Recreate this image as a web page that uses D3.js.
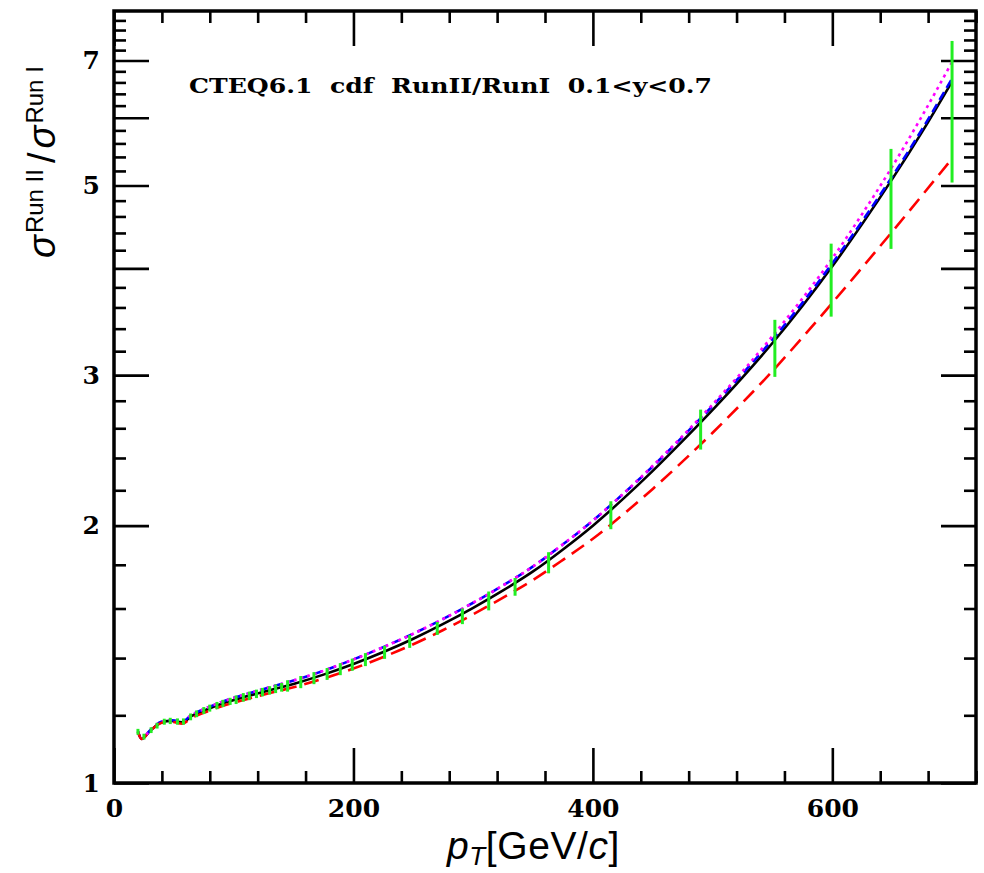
<!DOCTYPE html>
<html>
<head>
<meta charset="utf-8">
<script src="https://cdn.jsdelivr.net/npm/d3@7"></script>
<style>
  body { margin: 0; background: #fff; }
  svg { display: block; }
</style>
</head>
<body>
<div id="chart"></div>
<script>
// pT grid for the theory curves (GeV/c)
var ptGrid = [20, 23, 30, 40, 48, 57, 65, 75, 90, 110, 130, 150, 175, 200, 225, 250, 275, 300,
  325, 350, 375, 400, 425, 450, 475, 500, 525, 550, 575, 600, 625, 650, 675, 700];

// ratio RunII/RunI for each set
var centralSet = [1.148, 1.126, 1.150, 1.178, 1.182, 1.178, 1.198, 1.215, 1.238, 1.262, 1.284, 1.306,
  1.339, 1.378, 1.423, 1.475, 1.535, 1.603, 1.680, 1.768, 1.876, 2.000, 2.148, 2.318, 2.513, 2.732,
  2.982, 3.271, 3.614, 4.022, 4.509, 5.086, 5.777, 6.615];
var blueSet = [1.149, 1.127, 1.152, 1.180, 1.184, 1.181, 1.202, 1.220, 1.244, 1.270, 1.294, 1.318,
  1.353, 1.395, 1.442, 1.495, 1.556, 1.625, 1.703, 1.792, 1.902, 2.027, 2.177, 2.346, 2.542, 2.762,
  3.012, 3.302, 3.645, 4.055, 4.543, 5.121, 5.819, 6.669];
var magentaSet = [1.149, 1.127, 1.152, 1.180, 1.184, 1.181, 1.202, 1.220, 1.244, 1.270, 1.294, 1.318,
  1.353, 1.395, 1.442, 1.495, 1.556, 1.625, 1.703, 1.792, 1.902, 2.027, 2.177, 2.350, 2.547, 2.773,
  3.031, 3.333, 3.688, 4.110, 4.632, 5.260, 6.032, 6.972];
var redSet = [1.148, 1.126, 1.150, 1.176, 1.179, 1.173, 1.192, 1.208, 1.230, 1.252, 1.274, 1.294,
  1.325, 1.361, 1.404, 1.453, 1.510, 1.575, 1.648, 1.728, 1.824, 1.931, 2.060, 2.208, 2.378, 2.569,
  2.786, 3.033, 3.320, 3.645, 4.010, 4.415, 4.869, 5.376];

// uncertainty bars
var barPt = [20, 25, 31, 36, 42, 47, 53, 58, 64, 69, 75, 80, 86, 91, 97, 102, 108, 113, 119, 124,
  130, 135, 140, 145, 156, 167, 178, 189, 199, 210, 226, 247, 270, 291, 313, 335, 363, 415, 490,
  552, 599, 649, 700];
var barLow = [1.139, 1.124, 1.144, 1.158, 1.170, 1.172, 1.170, 1.170, 1.184, 1.194, 1.204, 1.212,
  1.220, 1.227, 1.234, 1.237, 1.245, 1.250, 1.257, 1.263, 1.269, 1.274, 1.279, 1.279, 1.291, 1.305,
  1.320, 1.337, 1.353, 1.370, 1.397, 1.439, 1.490, 1.534, 1.592, 1.656, 1.759, 1.981, 2.455, 2.986,
  3.512, 4.215, 5.040];
var barHigh = [1.157, 1.142, 1.162, 1.176, 1.189, 1.192, 1.190, 1.190, 1.206, 1.216, 1.227, 1.235,
  1.244, 1.251, 1.258, 1.266, 1.274, 1.279, 1.286, 1.292, 1.298, 1.304, 1.309, 1.319, 1.334, 1.348,
  1.363, 1.381, 1.398, 1.419, 1.447, 1.490, 1.543, 1.600, 1.675, 1.737, 1.862, 2.136, 2.734, 3.482,
  4.275, 5.518, 7.380];

var xMajor = [0, 200, 400, 600];
var yMajor = [1, 2, 3, 4, 5, 6, 7];
var yLabeled = [1, 2, 3, 5, 7];

var svgWidth = 984;
var svgHeight = 873;

var margin = {
  top: 11,
  right: 8,
  bottom: 90,
  left: 114
};

var width = svgWidth - margin.left - margin.right;
var height = svgHeight - margin.top - margin.bottom;

var svg = d3.select("#chart")
  .append("svg")
  .attr("width", svgWidth)
  .attr("height", svgHeight);

var chart = svg.append("g")
  .attr("transform", `translate(${margin.left}, ${margin.top})`);

var xScale = d3.scaleLinear()
  .domain([0, 720])
  .range([0, width]);

var yScale = d3.scaleLog()
  .domain([1, 8])
  .range([height, 0]);

var xMinor = d3.range(0, 721, 40).filter(d => xMajor.indexOf(d) < 0);
var yMinor = d3.range(5, 41).map(d => d / 5).filter(d => Math.abs(d - Math.round(d)) > 1e-6);

var labelFont = "'DejaVu Serif', serif";

function styleAxis(g) {
  g.select(".domain").remove();
  g.selectAll(".tick line").attr("stroke", "#000").attr("stroke-width", 2.6);
  g.selectAll(".tick text")
    .attr("font-family", labelFont)
    .attr("font-weight", "bold")
    .attr("font-size", 25)
    .attr("fill", "#000");
}

// bottom axis
chart.append("g")
  .attr("transform", `translate(0, ${height})`)
  .call(d3.axisBottom(xScale).tickValues(xMinor).tickSize(-12).tickFormat(""))
  .call(styleAxis);
chart.append("g")
  .attr("transform", `translate(0, ${height})`)
  .call(d3.axisBottom(xScale).tickValues(xMajor).tickSize(-35).tickPadding(16).tickFormat(d3.format("d")))
  .call(styleAxis);

// top axis
chart.append("g")
  .call(d3.axisTop(xScale).tickValues(xMinor).tickSize(-12).tickFormat(""))
  .call(styleAxis);
chart.append("g")
  .call(d3.axisTop(xScale).tickValues(xMajor).tickSize(-35).tickFormat(""))
  .call(styleAxis);

// left axis
chart.append("g")
  .call(d3.axisLeft(yScale).tickValues(yMinor).tickSize(-12).tickFormat(""))
  .call(styleAxis);
chart.append("g")
  .call(d3.axisLeft(yScale).tickValues(yMajor).tickSize(-35).tickPadding(14)
    .tickFormat(d => yLabeled.indexOf(d) >= 0 ? d : ""))
  .call(styleAxis);

// right axis
chart.append("g")
  .attr("transform", `translate(${width}, 0)`)
  .call(d3.axisRight(yScale).tickValues(yMinor).tickSize(-12).tickFormat(""))
  .call(styleAxis);
chart.append("g")
  .attr("transform", `translate(${width}, 0)`)
  .call(d3.axisRight(yScale).tickValues(yMajor).tickSize(-35).tickFormat(""))
  .call(styleAxis);

// frame
chart.append("rect")
  .attr("width", width)
  .attr("height", height)
  .attr("fill", "none")
  .attr("stroke", "#000")
  .attr("stroke-width", 3.5);

// curves
var line = d3.line()
  .x((d, i) => xScale(ptGrid[i]))
  .y(d => yScale(d))
  .curve(d3.curveMonotoneX);

var curves = [
  { values: centralSet, color: "#000", dash: null },
  { values: blueSet, color: "#0000ff", dash: "9,5" },
  { values: magentaSet, color: "#ff00ff", dash: "3,4" },
  { values: redSet, color: "#ff0000", dash: "15,8" }
];

curves.forEach(function(c) {
  chart.append("path")
    .datum(c.values)
    .attr("d", line)
    .attr("fill", "none")
    .attr("stroke", c.color)
    .attr("stroke-width", 2.6)
    .attr("stroke-dasharray", c.dash);
});

// error bars
chart.selectAll(".bar")
  .data(barPt)
  .enter()
  .append("line")
  .attr("class", "bar")
  .attr("x1", d => xScale(d))
  .attr("x2", d => xScale(d))
  .attr("y1", (d, i) => yScale(barLow[i]))
  .attr("y2", (d, i) => yScale(barHigh[i]))
  .attr("stroke", "#22ee22")
  .attr("stroke-width", 3);

// label inside the frame
svg.append("text")
  .attr("x", 189)
  .attr("y", 93)
  .attr("font-family", labelFont)
  .attr("font-weight", "bold")
  .attr("font-size", 21)
  .attr("textLength", 523)
  .attr("lengthAdjust", "spacingAndGlyphs")
  .style("white-space", "pre")
  .text("CTEQ6.1  cdf  RunII/RunI  0.1<y<0.7");

// x axis title
var xt = svg.append("text")
  .attr("x", 447)
  .attr("y", 859)
  .attr("font-family", "'Liberation Sans', Arial, sans-serif")
  .attr("font-size", 39)
  .attr("letter-spacing", 0.6);
xt.append("tspan").attr("font-style", "italic").text("p");
xt.append("tspan").attr("font-style", "italic").attr("font-size", 26).attr("dy", 6).text("T");
xt.append("tspan").attr("dy", -6).text("[GeV/");
xt.append("tspan").attr("font-style", "italic").text("c");
xt.append("tspan").text("]");

// y axis title
var yt = svg.append("text")
  .attr("transform", "translate(55, 258) rotate(-90)")
  .attr("font-family", "'Liberation Sans', Arial, sans-serif")
  .attr("font-size", 38);
yt.append("tspan").attr("font-style", "italic").text("σ");
yt.append("tspan").attr("font-size", 24).attr("dy", -12).attr("dx", 2).text("Run II");
yt.append("tspan").attr("dy", 12).attr("dx", 6).text("/");
yt.append("tspan").attr("font-style", "italic").attr("dx", 4).text("σ");
yt.append("tspan").attr("font-size", 24).attr("dy", -12).attr("dx", 2).text("Run I");
</script>
</body>
</html>
